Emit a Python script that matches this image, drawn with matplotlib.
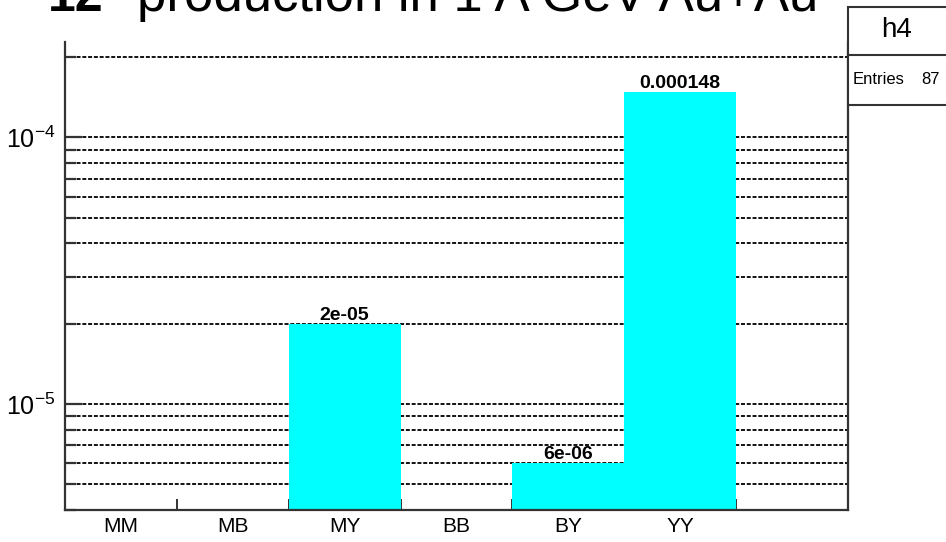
import numpy as np
import matplotlib
matplotlib.use("Agg")
import matplotlib.pyplot as plt
from matplotlib.patches import Rectangle
from matplotlib.lines import Line2D
from matplotlib.ticker import LogLocator, NullFormatter, FixedLocator, FixedFormatter

# ---- data ----
categories = ["MM", "MB", "MY", "BB", "BY", "YY", ""]
values = [0.0, 0.0, 2e-05, 0.0, 6e-06, 0.000148, 0.0]
bar_labels = ["", "", "2e-05", "", "6e-06", "0.000148", ""]
hist_name = "h4"
entries = 87
title_bold = "12"
title_rest = "production in 1 A GeV Au+Au"
ytick_vals = [1e-5, 1e-4]
ytick_labels = [r"$10^{-5}$", r"$10^{-4}$"]

FAM = ["Liberation Sans", "DejaVu Sans"]
plt.rcParams["font.family"] = FAM
plt.rcParams["mathtext.fontset"] = "custom"
plt.rcParams["mathtext.rm"] = "Liberation Sans"
plt.rcParams["mathtext.it"] = "Liberation Sans:italic"
plt.rcParams["mathtext.bf"] = "Liberation Sans:bold"

W, H = 946, 542
fig = plt.figure(figsize=(W / 100, H / 100), dpi=100)

# axes frame in pixels
L, R, T, B = 65, 848, 42, 510
ax = fig.add_axes([L / W, 1 - B / H, (R - L) / W, (B - T) / H])

x = np.arange(len(categories))
vals = np.array(values)
mask = vals > 0
ax.bar(x[mask], vals[mask], width=1.0, align="center", color="#00ffff",
       edgecolor="none", zorder=2)

ax.set_yscale("log")
ax.set_ylim(4.0e-6, 2.28e-4)
ax.set_xlim(-0.5, len(categories) - 0.5)

# y ticks
ax.yaxis.set_major_locator(FixedLocator(ytick_vals))
ax.yaxis.set_major_formatter(FixedFormatter(ytick_labels))
ax.yaxis.set_minor_locator(LogLocator(base=10, subs=np.arange(2, 10)))
ax.yaxis.set_minor_formatter(NullFormatter())
ax.tick_params(axis="y", which="major", direction="in", length=12, width=1.6,
               color="#333333", labelsize=18, pad=7)
ax.tick_params(axis="y", which="minor", direction="in", length=8, width=1.6,
               color="#333333")

# x ticks: edges as major ticks, labels at bin centers
edges = np.arange(len(categories) - 1) + 0.5
ax.xaxis.set_major_locator(FixedLocator(edges))
ax.xaxis.set_major_formatter(NullFormatter())
ax.xaxis.set_minor_locator(FixedLocator(x))
ax.xaxis.set_minor_formatter(FixedFormatter(categories))
ax.tick_params(axis="x", which="major", direction="in", length=8, width=1.4,
               color="#333333")
ax.tick_params(axis="x", which="minor", length=0, labelsize=15, pad=5)

# grid
ax.set_axisbelow(True)
ax.grid(True, axis="y", which="both", color="black", linewidth=1.3,
        linestyle=(0, (2.2, 1.0)))
ax.grid(False, axis="x", which="both")

for s in ["left", "bottom", "right"]:
    ax.spines[s].set_color("#333333")
    ax.spines[s].set_linewidth(1.6)
ax.spines["top"].set_visible(False)

# bar value labels
for xi, v, lab in zip(x, vals, bar_labels):
    if v > 0 and lab:
        ax.annotate(lab, (xi, v), xytext=(0, 3), textcoords="offset points",
                    ha="center", va="baseline", fontsize=14, fontweight="bold",
                    zorder=5)

# title (cropped at the top of the canvas)
fig.text(48 / W, 1 - 11 / H, title_bold, ha="left", va="baseline",
         fontsize=36, fontweight="bold")
fig.text(137 / W, 1 - 11 / H, title_rest, ha="left", va="baseline",
         fontsize=38)

# stats box
bx0, by0, by1, bdiv = 848, 7, 105, 55
fig.add_artist(Rectangle((bx0 / W, 1 - by1 / H), (W + 10 - bx0) / W, (by1 - by0) / H,
                         transform=fig.transFigure, facecolor="white",
                         edgecolor="#333333", linewidth=1.5, zorder=10))
fig.add_artist(Line2D([bx0 / W, 1.0], [1 - bdiv / H, 1 - bdiv / H],
                      transform=fig.transFigure, color="#333333", linewidth=1.5,
                      zorder=11))
fig.text(897 / W, 1 - 30 / H, hist_name, ha="center", va="center", fontsize=20,
         zorder=12)
fig.text(853 / W, 1 - 80 / H, "Entries", ha="left", va="center", fontsize=12,
         zorder=12)
fig.text(940 / W, 1 - 80 / H, f"{entries}", ha="right", va="center", fontsize=12,
         zorder=12)

fig.savefig("out.png", dpi=100)
